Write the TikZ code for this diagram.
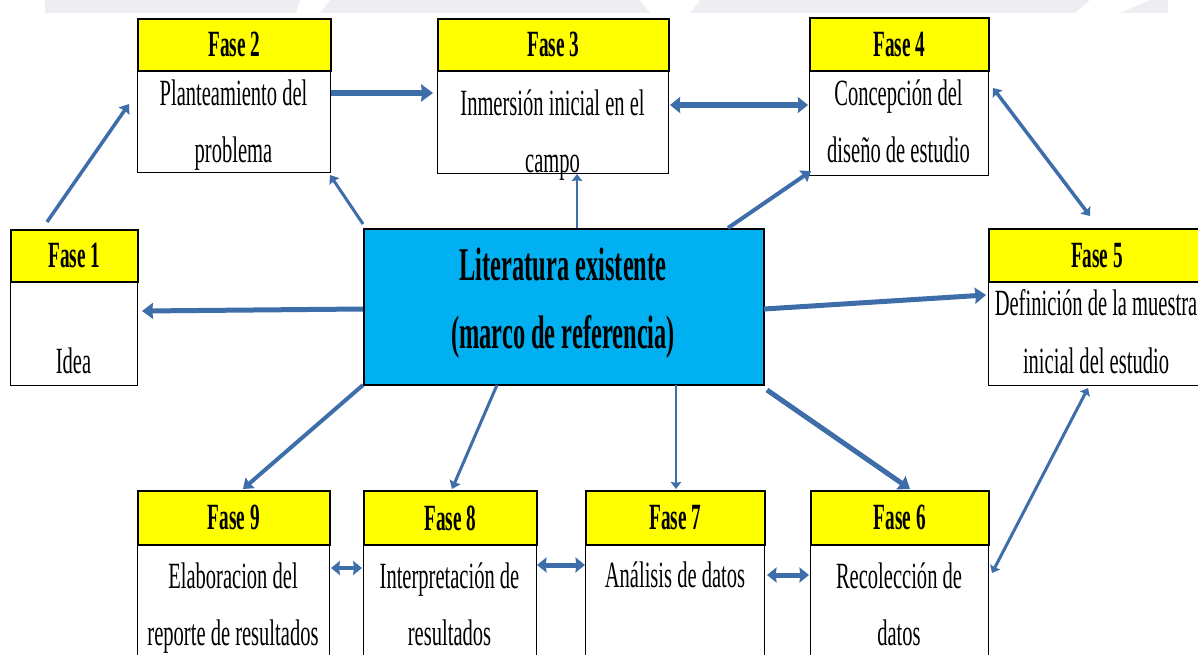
\documentclass[tikz,border=0pt]{standalone}
\usepackage{fontspec}
\setmainfont{Liberation Serif}
\newfontfamily\cf[FakeStretch=0.555]{Liberation Serif}
\newfontfamily\cfb[FakeStretch=0.52]{Liberation Serif}
\usetikzlibrary{arrows.meta}
\definecolor{arr}{RGB}{62,110,170}
\definecolor{hdr}{RGB}{255,255,0}
\definecolor{ctr}{RGB}{0,176,240}
\definecolor{wm}{RGB}{238,238,242}
\newcommand\phasebox[6]{%
  \node[bodybox, minimum width=#3-#2, minimum height=#6-#5] (b#1) at (#2,#5) {};
  \node[hdrbox, minimum width=#3-#2, minimum height=#5-#4] (h#1) at (#2,#4) {\cfb\bfseries Fase #1};
}
\begin{document}
\begin{tikzpicture}[x=1pt,y=-1pt,
  every node/.style={font=\cf\fontsize{37}{44}\selectfont},
  hdrbox/.style={draw=black,line width=1.8pt,fill=hdr,anchor=north west,inner sep=0pt},
  bodybox/.style={draw=black,line width=1.4pt,fill=white,anchor=north west,inner sep=0pt},
  txt/.style={anchor=base,inner sep=0pt},
  tip/.style={Stealth[length=3pt+1.6*#1,width=5pt+2.2*#1,inset=0.8pt]},
  con/.style={draw=arr,line width=#1,-{Stealth[length=3pt+1.6*#1,width=5pt+2.2*#1,inset=0.8pt]}},
  con/.default=4pt,
  dcon/.style={draw=arr,line width=#1,{Stealth[length=3pt+1.3*#1,width=5pt+2*#1,inset=0.8pt]}-{Stealth[length=3pt+1.3*#1,width=5pt+2*#1,inset=0.8pt]}},
  dcon/.default=4pt]
\useasboundingbox (0,0) rectangle (1198,654);
\clip (0,0) rectangle (1198,654);
\fill[white] (0,0) rectangle (1198,654);
% faint watermark band at top
\fill[wm] (45,0) rectangle (1168,13);
\fill[white] (300,0) -- (330,0) -- (320,13) -- (296,13) -- cycle;
\fill[white] (640,0) -- (700,0) -- (690,13) -- (650,13) -- cycle;
\fill[white] (1090,0) -- (1150,0) -- (1120,13) -- (1075,13) -- cycle;

% phases
\phasebox{2}{137}{330}{18}{70}{172}
\phasebox{3}{437}{668}{18}{70}{173}
\phasebox{4}{809}{988}{17}{70}{175}
\phasebox{1}{10}{137}{229}{281}{385}
\phasebox{5}{988}{1204}{228}{281}{385}
\phasebox{9}{137}{329}{490}{544}{670}
\phasebox{8}{363}{536}{490}{544}{670}
\phasebox{7}{585}{764}{490}{544}{670}
\phasebox{6}{810}{988}{490}{544}{670}

% center
\node[draw=black,line width=1.6pt,fill=ctr,anchor=north west,inner sep=0pt,
      minimum width=400,minimum height=156] (c) at (363,228) {};
\node[txt,font=\cfb\bfseries\fontsize{47}{56}\selectfont] (c1) at (563,280) {Literatura existente};
\node[txt,font=\cfb\bfseries\fontsize{47}{56}\selectfont] (c2) at (563,348) {(marco de referencia)};

% body texts
\node[txt] (t2a) at (233.5,105) {Planteamiento del};
\node[txt] (t2b) at (233.5,162) {problema};
\node[txt] (t3a) at (552.5,115) {Inmersión inicial en el};
\node[txt] (t3b) at (552.5,172) {campo};
\node[txt] (t4a) at (898.5,105) {Concepción del};
\node[txt] (t4b) at (898.5,162) {diseño de estudio};
\node[txt] (t1a) at (73.5,373) {Idea};
\node[txt] (t5a) at (1096,315) {Definición de la muestra};
\node[txt] (t5b) at (1096,373) {inicial del estudio};
\node[txt] (t9a) at (233,588) {Elaboracion del};
\node[txt] (t9b) at (233,645) {reporte de resultados};
\node[txt] (t8a) at (449.5,588) {Interpretación de};
\node[txt] (t8b) at (449.5,645) {resultados};
\node[txt] (t7a) at (675,587) {Análisis de datos};
\node[txt] (t6a) at (899,588) {Recolección de};
\node[txt] (t6b) at (899,645) {datos};

% connector end points
\coordinate (p1s) at (47,222);  \coordinate (p2w) at (129,104);
\coordinate (p2e) at (331,93);  \coordinate (p3w) at (433,93);
\coordinate (p3e) at (670,105); \coordinate (p4w) at (808,105);
\coordinate (p4e) at (993,88);  \coordinate (p5n) at (1090,216);
\coordinate (p5s) at (1088,388);\coordinate (p6e) at (992,573);
\coordinate (p6w) at (809,575); \coordinate (p7e) at (767,575);
\coordinate (p7w) at (585,565); \coordinate (p8e) at (537,565);
\coordinate (p8w) at (362,568); \coordinate (p9e) at (331,568);
\coordinate (cw) at (363,309);  \coordinate (p1e) at (142,311);
\coordinate (cnw) at (363,224); \coordinate (p2s) at (330,175);
\coordinate (cn) at (577,228);  \coordinate (p3s) at (577,174);
\coordinate (cne) at (728,228); \coordinate (p4sw) at (811,171);
\coordinate (ce) at (764,309);  \coordinate (p5w) at (986,295);
\coordinate (csw) at (363,385); \coordinate (p9n) at (243,489);
\coordinate (cs1) at (497,385); \coordinate (p8n) at (452,489);
\coordinate (cs2) at (676,385); \coordinate (p7n) at (676,489);
\coordinate (cse) at (767,390); \coordinate (p6n) at (910,489);

% phase-to-phase connectors
\draw[con=3.5pt] (p1s) -- (p2w);
\draw[con=5.5pt] (p2e) -- (p3w);
\draw[dcon=5.5pt] (p3e) -- (p4w);
\draw[dcon=3.5pt] (p4e) -- (p5n);
\draw[dcon=3pt] (p5s) -- (p6e);
\draw[dcon=5pt] (p7e) -- (p6w);
\draw[dcon=5pt] (p8e) -- (p7w);
\draw[dcon=4.5pt] (p9e) -- (p8w);

% center connectors
\draw[con=5pt] (cw) -- (p1e);
\draw[con=3pt] (cnw) -- (p2s);
\draw[con=2.5pt] (cn) -- (p3s);
\draw[con=4pt] (cne) -- (p4sw);
\draw[con=5pt] (ce) -- (p5w);
\draw[con=4pt] (csw) -- (p9n);
\draw[con=3pt] (cs1) -- (p8n);
\draw[con=2.5pt] (cs2) -- (p7n);
\draw[con=5pt] (cse) -- (p6n);
\end{tikzpicture}
\end{document}
